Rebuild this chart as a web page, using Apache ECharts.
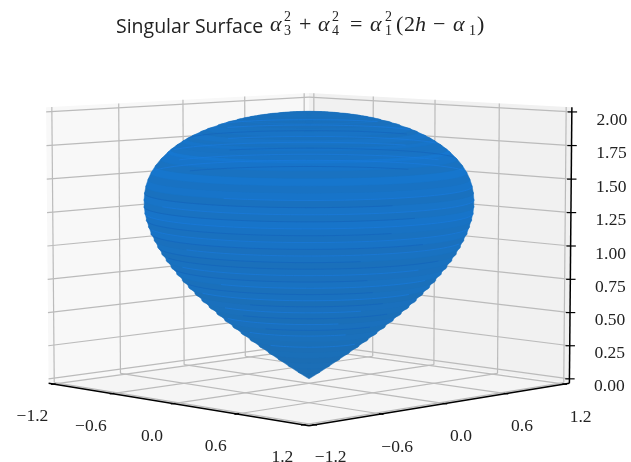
<!DOCTYPE html>
<html>
<head>
<meta charset="utf-8">
<style>
  html, body { margin: 0; padding: 0; background: #fff; }
  #chart { width: 631px; height: 462px; filter: blur(0.45px); }
</style>
<script src="https://cdn.jsdelivr.net/npm/echarts@6/dist/echarts.min.js"></script>
</head>
<body>
<div id="chart"></div>
<script>
var titleText = 'Singular Surface';
var xTicks = [-1.2, -0.6, 0, 0.6, 1.2];
var yTicks = [-1.2, -0.6, 0, 0.6, 1.2];
var zTicks = [0, 0.25, 0.5, 0.75, 1, 1.25, 1.5, 1.75, 2];
var xTickLabels = ['\u22121.2', '\u22120.6', '0.0', '0.6', '1.2'];
var yTickLabels = ['\u22121.2', '\u22120.6', '0.0', '0.6', '1.2'];
var zTickLabels = ['0.00', '0.25', '0.50', '0.75', '1.00', '1.25', '1.50', '1.75', '2.00'];

// surface profile, height and ring radius
var surfaceZ = [0, 0.05, 0.1, 0.15, 0.2, 0.25, 0.3, 0.35, 0.4, 0.45, 0.5, 0.55, 0.6, 0.65, 0.7, 0.75, 0.8, 0.85, 0.9, 0.95,
  1, 1.05, 1.1, 1.15, 1.2, 1.25, 1.3, 1.35, 1.4, 1.45, 1.5, 1.55, 1.6, 1.65, 1.7, 1.72, 1.75, 1.78, 1.8, 1.82, 1.85, 1.87, 1.9,
  1.92, 1.94, 1.95, 1.96, 1.97, 1.98, 1.99, 1.996, 2];
var surfaceR = [0, 0.072, 0.141, 0.208, 0.274, 0.338, 0.4, 0.46, 0.517, 0.572, 0.625, 0.677, 0.726, 0.772, 0.816, 0.857, 0.895, 0.932, 0.965, 0.995,
  1.022, 1.045, 1.067, 1.083, 1.097, 1.107, 1.112, 1.112, 1.108, 1.099, 1.084, 1.063, 1.034, 0.997, 0.951, 0.93, 0.894, 0.853, 0.823, 0.789, 0.732, 0.689, 0.614,
  0.555, 0.486, 0.446, 0.401, 0.349, 0.286, 0.203, 0.129, 0];
// how blue each band looks, 0 dull to 1 bright
var surfaceTone = [0.1, 0.1, 0.15, 0.1, 0.2, 0.15, 0.2, 0.25, 0.2, 0.3, 0.2, 0.25, 0.3, 0.2, 0.35, 0.25, 0.4, 0.3, 0.35, 0.25,
  0.4, 0.3, 0.5, 0.35, 0.45, 0.6, 0.4, 0.55, 0.35, 0.6, 0.45, 0.7, 0.4, 0.6, 0.75, 0.5, 0.45, 0.6, 0.4, 0.55, 0.35, 0.5, 0.4,
  0.3, 0.45, 0.3, 0.35, 0.3, 0.35, 0.3, 0.3, 0.3];

// streaks on the surface: height of a ring, start and end angle from the front, tone
var streakZ = [1.9, 1.85, 1.8, 1.75, 1.7, 1.65, 1.6, 1.55, 1.5,
  1.45, 1.4, 1.35, 1.3, 1.25, 1.2, 1.15, 1.1, 1.05, 1, 0.95, 0.9, 0.85, 0.8, 0.75, 0.7, 0.65, 0.6, 0.55, 0.5, 0.45, 0.4, 0.3];
var streakFrom = [130, 110, 125, 105, 135, 100, 120, 100, 140,
  -30, -85, -60, -85, -80, -85, -75, -85, -50, -80, -70, -60, -75, -40, -70, -60, -30, -50, -40, -60, -30, -50, -40];
var streakTo = [250, 230, 260, 220, 255, 215, 240, 260, 230,
  85, 30, 85, 40, 85, 30, 80, 45, 75, 20, 60, 50, 25, 60, 30, 55, 40, 30, 50, 20, 45, 30, 50];
var streakTone = [1, 1, 0, 1, 1, 0, 1, 1, 0,
  1, 0, 1, 0, 1, 0, 1, 0, 1, 0, 0, 1, 0, 1, 0, 1, 0, 1, 0, 1, 0, 1, 1];

var chart = echarts.init(document.getElementById('chart'));

var boxHalf = 1.25, zMid = 1, zHalf = 1.034;
var elev = 6 * Math.PI / 180, camDist = 16.5, depthA = 0.75, unit = 185, cx = 309, cy = 246;

function project(x, y, z) {
  var a = x / boxHalf, b = y / boxHalf, c = (z - zMid) / zHalf * depthA;
  var r = (a + b) / Math.SQRT2, t = (a - b) / Math.SQRT2;
  var toward = t * Math.cos(elev) + c * Math.sin(elev);
  var up = c * Math.cos(elev) - t * Math.sin(elev);
  var s = camDist / (camDist - toward);
  return [cx + unit * s * r, cy - unit * s * up];
}

function ringPoint(r, z, angle) {
  var th = (angle - 45) * Math.PI / 180;
  return project(r * Math.cos(th), r * Math.sin(th), z);
}

function toneColor(tone) {
  var g = Math.round(108 + 14 * tone), b = Math.round(176 + 42 * tone);
  return 'rgb(' + Math.round(28 - 8 * tone) + ',' + g + ',' + b + ')';
}

var zLow = -0.034, zHigh = 2.034;
var panes = [
  { pts: [[-boxHalf, -boxHalf, zLow], [-boxHalf, boxHalf, zLow], [-boxHalf, boxHalf, zHigh], [-boxHalf, -boxHalf, zHigh]], color: '#f8f8f8' },
  { pts: [[-boxHalf, boxHalf, zLow], [boxHalf, boxHalf, zLow], [boxHalf, boxHalf, zHigh], [-boxHalf, boxHalf, zHigh]], color: '#f1f1f1' },
  { pts: [[-boxHalf, -boxHalf, zLow], [boxHalf, -boxHalf, zLow], [boxHalf, boxHalf, zLow], [-boxHalf, boxHalf, zLow]], color: '#f5f5f5' }
];

var gridSegs = [];
xTicks.forEach(function (v) {
  gridSegs.push([[v, -boxHalf, zLow], [v, boxHalf, zLow]]);
  gridSegs.push([[v, boxHalf, zLow], [v, boxHalf, zHigh]]);
});
yTicks.forEach(function (v) {
  gridSegs.push([[-boxHalf, v, zLow], [boxHalf, v, zLow]]);
  gridSegs.push([[-boxHalf, v, zLow], [-boxHalf, v, zHigh]]);
});
zTicks.forEach(function (v) {
  gridSegs.push([[-boxHalf, -boxHalf, v], [-boxHalf, boxHalf, v]]);
  gridSegs.push([[-boxHalf, boxHalf, v], [boxHalf, boxHalf, v]]);
});

var axisSegs = [
  [[-boxHalf, -boxHalf, zLow], [boxHalf, -boxHalf, zLow]],
  [[boxHalf, -boxHalf, zLow], [boxHalf, boxHalf, zLow]],
  [[boxHalf, boxHalf, zLow], [boxHalf, boxHalf, zHigh]]
];
var tickSegs = [];
xTicks.forEach(function (v) { tickSegs.push([[v, -boxHalf + 0.02, zLow], [v, -boxHalf - 0.02, zLow]]); });
yTicks.forEach(function (v) { tickSegs.push([[boxHalf - 0.02, v, zLow], [boxHalf + 0.02, v, zLow]]); });
zTicks.forEach(function (v) { tickSegs.push([[boxHalf - 0.02, boxHalf - 0.02, v], [boxHalf + 0.025, boxHalf + 0.025, v]]); });

var tickTexts = [];
xTicks.forEach(function (v, i) {
  var p = project(v, -boxHalf, zLow);
  tickTexts.push({ text: xTickLabels[i], x: p[0] - 21, y: p[1] + 32.5 });
});
yTicks.forEach(function (v, i) {
  var p = project(boxHalf, v, zLow);
  tickTexts.push({ text: yTickLabels[i], x: p[0] + 16, y: p[1] + 33 });
});
zTicks.forEach(function (v, i) {
  var p = project(boxHalf, boxHalf, v);
  tickTexts.push({ text: zTickLabels[i], x: p[0] + 40, y: p[1] + 8 });
});

function segSeries(segs, color, width) {
  return {
    type: 'custom',
    silent: true,
    data: segs.map(function (s, i) { return [i]; }),
    renderItem: function (params, api) {
      var s = segs[params.dataIndex];
      var p = api.coord(project(s[0][0], s[0][1], s[0][2]));
      var q = api.coord(project(s[1][0], s[1][1], s[1][2]));
      return {
        type: 'line',
        shape: { x1: p[0], y1: p[1], x2: q[0], y2: q[1] },
        style: { stroke: color, lineWidth: width }
      };
    }
  };
}

var paneSeries = {
  type: 'custom',
  silent: true,
  data: panes.map(function (p, i) { return [i]; }),
  renderItem: function (params, api) {
    var pane = panes[params.dataIndex];
    return {
      type: 'polygon',
      shape: { points: pane.pts.map(function (q) { return api.coord(project(q[0], q[1], q[2])); }) },
      style: { fill: pane.color }
    };
  }
};

// bands painted from the tip upward, each covers the one under it
var surfaceSeries = {
  type: 'custom',
  silent: true,
  data: surfaceZ.slice(1).map(function (z, i) {
    return [surfaceZ[i], surfaceR[i], z, surfaceR[i + 1], surfaceTone[i]];
  }),
  renderItem: function (params, api) {
    var pts = [], a;
    for (a = -90; a <= 90; a += 3) pts.push(api.coord(ringPoint(api.value(1), api.value(0), a)));
    for (a = 90; a <= 270; a += 3) pts.push(api.coord(ringPoint(api.value(3), api.value(2), a)));
    var color = toneColor(api.value(4));
    return {
      type: 'polygon',
      shape: { points: pts },
      style: { fill: color, stroke: color, lineWidth: 0.5 }
    };
  }
};

var streakSeries = {
  type: 'custom',
  silent: true,
  data: streakZ.map(function (z, i) {
    return [z, surfaceR[surfaceZ.indexOf(z)], streakFrom[i], streakTo[i], streakTone[i]];
  }),
  renderItem: function (params, api) {
    var pts = [];
    for (var a = api.value(2); a <= api.value(3); a += 3) pts.push(api.coord(ringPoint(api.value(1), api.value(0), a)));
    return {
      type: 'polyline',
      shape: { points: pts },
      style: { stroke: api.value(4) > 0.5 ? '#1a7bdc' : '#1464bb', lineWidth: 0.9, opacity: 0.75, fill: 'none' }
    };
  }
};

var tickTextSeries = {
  type: 'custom',
  silent: true,
  data: tickTexts.map(function (t, i) { return [i]; }),
  renderItem: function (params, api) {
    var t = tickTexts[params.dataIndex], p = api.coord([t.x, t.y]);
    return {
      type: 'text',
      style: { text: t.text, x: p[0], y: p[1], fill: '#222', font: '17.5px "Liberation Serif"', textAlign: 'center', textVerticalAlign: 'middle' }
    };
  }
};

// the formula is set piece by piece so that sub and superscripts can stack
function mathText(text, left, top, size, italic) {
  return {
    type: 'text', left: left, top: top, silent: true,
    style: { text: text, fill: '#222', font: (italic ? 'italic ' : '') + size + 'px "Liberation Serif"' }
  };
}

var option = {
  animation: false,
  backgroundColor: '#fff',
  title: {
    text: titleText, left: 111, top: 12,
    textStyle: { fontFamily: 'Open Sans', fontWeight: 'normal', fontSize: 19.5, color: '#222' }
  },
  grid: { left: 0, right: 0, top: 0, bottom: 0 },
  xAxis: { type: 'value', min: 0, max: 631, show: false },
  yAxis: { type: 'value', min: 0, max: 462, inverse: true, show: false },
  graphic: [
    mathText('\u03b1', 270, 14, 22, true), mathText('2', 284, 10, 14), mathText('3', 284, 24, 14),
    mathText('+', 299, 14, 22), mathText('\u03b1', 318, 14, 22, true), mathText('2', 332, 10, 14), mathText('4', 332, 24, 14),
    mathText('=', 350, 14, 22), mathText('\u03b1', 370, 14, 22, true), mathText('2', 385, 10, 14), mathText('1', 385, 24, 14),
    mathText('(', 396, 14, 22), mathText('2', 404, 14, 22), mathText('h', 415, 14, 22, true),
    mathText('\u2212', 433, 14, 22), mathText('\u03b1', 453, 14, 22, true), mathText('1', 469, 24, 14), mathText(')', 477, 14, 22)
  ],
  series: [
    paneSeries,
    segSeries(gridSegs, '#bbbbbb', 1.2),
    segSeries(axisSegs, '#000', 1.5),
    segSeries(tickSegs, '#000', 1.2),
    surfaceSeries,
    streakSeries,
    tickTextSeries
  ]
};

chart.setOption(option);
</script>
</body>
</html>
